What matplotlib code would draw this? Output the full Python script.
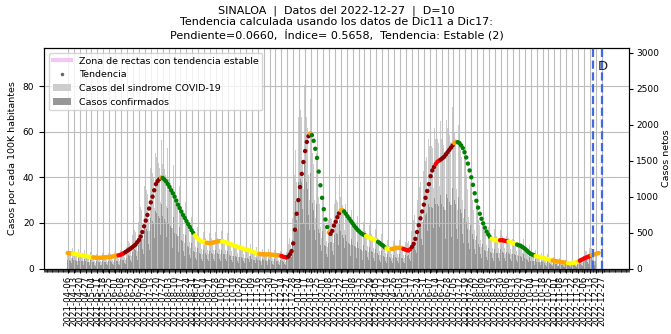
import numpy as np
import pandas as pd
import matplotlib
matplotlib.use("Agg")
import matplotlib.pyplot as plt
from matplotlib.lines import Line2D
from matplotlib.patches import Patch

# ---------------- data ----------------
state = "SINALOA"
data_date = "2022-12-27"
delay_days = 10
start_date = "2021-04-06"
trend_step_days = 2

# trend (cases per 100K), one value every 2 days from start_date
trend_values = [
    6.8, 6.7, 6.6, 6.5, 6.4, 6.3, 6.1, 6.0, 5.8, 5.7,
    5.5, 5.4, 5.2, 5.1, 5.0, 4.9, 4.8, 4.7, 4.7, 4.7,
    4.8, 4.8, 4.9, 4.9, 5.0, 5.1, 5.2, 5.3, 5.4, 5.6,
    5.8, 6.0, 6.3, 6.7, 7.2, 7.7, 8.2, 8.7, 9.3, 9.9,
    10.5, 11.5, 12.5, 14.0, 16.0, 18.5, 21.0, 23.5, 26.3, 29.0,
    31.5, 34.3, 37.0, 38.3, 39.2, 39.9, 39.7, 39.0, 38.2, 37.0,
    35.8, 34.3, 33.0, 31.5, 29.8, 28.0, 26.5, 25.0, 23.5, 22.2,
    20.8, 19.5, 18.2, 16.8, 15.6, 14.5, 13.6, 12.9, 12.3, 11.9,
    11.6, 11.5, 11.3, 11.2, 11.1, 11.2, 11.4, 11.6, 11.8, 12.0,
    12.0, 11.9, 11.7, 11.5, 11.3, 11.0, 10.7, 10.4, 10.1, 9.8,
    9.6, 9.3, 9.1, 8.8, 8.6, 8.4, 8.2, 8.0, 7.7, 7.4,
    7.1, 6.9, 6.6, 6.4, 6.3, 6.2, 6.2, 6.2, 6.2, 6.2,
    6.1, 6.0, 5.9, 5.9, 5.8, 5.7, 5.5, 5.2, 5.0, 4.8,
    5.2, 6.2, 7.6, 11.0, 17.0, 24.0, 30.0, 35.7, 41.5, 46.7,
    51.5, 55.5, 58.0, 59.2, 58.5, 56.0, 52.5, 48.5, 42.5, 36.5,
    31.0, 26.0, 21.5, 18.2, 15.8, 15.2, 16.5, 18.8, 20.5, 22.5,
    24.2, 25.5, 25.6, 25.0, 24.0, 22.9, 21.9, 20.8, 19.8, 18.7,
    17.8, 16.9, 16.2, 15.5, 15.0, 14.6, 14.2, 13.9, 13.6, 13.2,
    12.9, 12.6, 12.1, 11.7, 11.1, 10.5, 10.0, 9.3, 8.8, 8.6,
    8.6, 8.6, 8.7, 8.9, 9.0, 9.1, 9.1, 8.9, 8.6, 8.3,
    8.0, 7.9, 8.5, 9.5, 10.8, 13.0, 16.0, 19.0, 22.0, 25.0,
    28.0, 31.0, 34.0, 37.0, 40.5, 43.0, 44.5, 45.8, 46.8, 47.3,
    47.8, 48.4, 49.0, 50.0, 51.0, 52.0, 53.0, 54.0, 55.0, 55.5,
    55.4, 55.0, 54.0, 52.8, 51.0, 48.7, 46.0, 43.0, 40.0, 36.7,
    33.0, 29.7, 26.7, 24.0, 21.8, 19.8, 17.9, 16.2, 14.9, 13.8,
    13.1, 12.6, 12.4, 12.3, 12.3, 12.4, 12.4, 12.3, 12.1, 12.0,
    11.8, 11.6, 11.3, 11.0, 10.8, 10.5, 10.2, 10.0, 9.5, 9.0,
    8.4, 7.7, 7.0, 6.4, 6.1, 5.8, 5.5, 5.3, 5.1, 5.0,
    4.8, 4.5, 4.3, 4.1, 3.9, 3.7, 3.5, 3.4, 3.2, 3.1,
    3.0, 2.8, 2.7, 2.6, 2.5, 2.4, 2.4, 2.4, 2.5, 2.6,
    2.8, 3.1, 3.4, 3.8, 4.2, 4.6, 4.9, 5.2, 5.5, 5.8,
    6.1, 6.3, 6.6, 6.8,
]

# trend category runs: day offset (from start_date) where each colour starts
trend_run_start_day = [0, 6, 30, 59, 68, 109, 111, 150, 164, 182, 225, 251, 259,
                       286, 288, 307, 310, 321, 325, 351, 365, 376, 382, 396,
                       405, 434, 440, 455, 459, 500, 510, 519, 530, 552, 571,
                       589, 604, 618]
trend_run_category = ["orange", "yellow", "orange", "red", "darkred", "orange",
                      "green", "yellow", "orange", "yellow", "orange", "red",
                      "darkred", "orange", "green", "orange", "darkred", "orange",
                      "green", "yellow", "green", "yellow", "orange", "red",
                      "darkred", "red", "darkred", "orange", "green", "yellow",
                      "red", "yellow", "green", "yellow", "orange", "yellow",
                      "red", "orange"]

# daily cases (weekly rows, starting at start_date)
sindrome_cases = [
    [250, 250, 240, 225, 150, 115, 290], [240, 240, 230, 215, 145, 110, 275],
    [220, 220, 210, 200, 130, 100, 255], [200, 200, 190, 180, 120, 90, 230],
    [180, 180, 170, 160, 110, 80, 205], [185, 175, 175, 165, 105, 85, 210],
    [190, 190, 180, 170, 115, 85, 220], [200, 200, 190, 180, 120, 90, 230],
    [220, 220, 210, 200, 130, 100, 255], [260, 260, 245, 235, 155, 115, 300],
    [400, 400, 380, 360, 240, 180, 460], [560, 560, 530, 505, 335, 250, 645],
    [900, 900, 855, 810, 540, 405, 1035], [1150, 1150, 1090, 1035, 690, 520, 1320],
    [1400, 1400, 1330, 1260, 840, 630, 1610], [1550, 1550, 1470, 1395, 930, 700, 1780],
    [1450, 1450, 1380, 1305, 870, 650, 1670], [1250, 1250, 1190, 1125, 750, 560, 1440],
    [1000, 1000, 950, 900, 600, 450, 1150], [800, 800, 760, 720, 480, 360, 920],
    [620, 620, 590, 560, 370, 280, 715], [500, 500, 475, 450, 300, 225, 575],
    [440, 440, 420, 395, 265, 200, 505], [430, 430, 410, 385, 260, 195, 495],
    [445, 435, 420, 400, 260, 200, 510], [450, 450, 430, 405, 270, 200, 520],
    [425, 435, 405, 390, 255, 195, 490], [400, 400, 380, 360, 240, 180, 460],
    [360, 360, 340, 325, 215, 160, 415], [330, 330, 315, 295, 200, 150, 380],
    [300, 300, 285, 270, 180, 135, 345], [260, 260, 245, 235, 155, 115, 300],
    [240, 240, 230, 215, 145, 110, 275], [235, 235, 225, 210, 140, 105, 270],
    [225, 225, 215, 200, 135, 100, 260], [210, 210, 200, 190, 125, 95, 240],
    [200, 200, 190, 180, 120, 90, 230], [300, 340, 380, 420, 320, 280, 700],
    [1100, 1300, 1500, 1650, 1200, 950, 2100], [2200, 2250, 2200, 2100, 1450, 1100, 2550],
    [2300, 2200, 2100, 1950, 1300, 950, 2350], [1900, 1750, 1600, 1450, 950, 700, 1600],
    [1300, 1150, 1000, 900, 580, 430, 950], [750, 680, 620, 580, 380, 300, 720],
    [680, 700, 700, 690, 470, 350, 850], [900, 950, 950, 920, 620, 460, 1300],
    [1000, 950, 880, 820, 540, 400, 900], [750, 740, 700, 660, 440, 330, 820],
    [650, 640, 610, 580, 390, 290, 730], [560, 560, 530, 505, 335, 250, 645],
    [520, 520, 495, 470, 310, 235, 600], [480, 480, 455, 430, 290, 215, 550],
    [420, 420, 400, 380, 250, 190, 485], [350, 350, 335, 315, 210, 160, 400],
    [330, 330, 315, 295, 200, 150, 380], [340, 340, 325, 305, 205, 155, 390],
    [320, 320, 305, 290, 190, 145, 370], [330, 340, 360, 380, 260, 210, 520],
    [550, 620, 680, 740, 520, 420, 1000], [950, 1050, 1130, 1200, 820, 640, 1450],
    [1350, 1450, 1500, 1550, 1050, 800, 1800], [1700, 1750, 1700, 1680, 1120, 850, 1950],
    [1800, 1850, 1800, 1750, 1150, 870, 2050], [1800, 1800, 1710, 1620, 1080, 810, 2070],
    [1950, 1950, 1850, 1755, 1170, 880, 2240], [2000, 1900, 1800, 1700, 1100, 820, 2000],
    [1750, 1650, 1550, 1450, 950, 700, 1650], [1400, 1300, 1200, 1100, 720, 530, 1200],
    [1000, 950, 880, 820, 540, 400, 900], [720, 680, 640, 600, 400, 300, 680],
    [560, 540, 510, 480, 320, 240, 580], [480, 480, 455, 430, 290, 215, 550],
    [470, 470, 445, 425, 280, 210, 540], [475, 465, 450, 420, 285, 205, 530],
    [450, 450, 430, 405, 270, 200, 520], [410, 410, 390, 370, 245, 185, 470],
    [360, 360, 340, 325, 215, 160, 415], [280, 280, 265, 250, 170, 125, 320],
    [220, 220, 210, 200, 130, 100, 255], [190, 190, 180, 170, 115, 85, 220],
    [170, 170, 160, 155, 100, 75, 195], [140, 140, 135, 125, 85, 65, 160],
    [120, 120, 115, 110, 70, 55, 140], [105, 105, 100, 95, 65, 45, 120],
    [95, 95, 90, 85, 55, 45, 110], [110, 110, 105, 100, 65, 50, 125],
    [150, 150, 145, 135, 90, 70, 175], [220, 230, 240, 250, 170, 130, 290],
    [260, 270, 280, 250, 160, 110, 200],
]

confirmed_cases = [
    [125, 125, 120, 110, 75, 55, 145], [120, 120, 115, 105, 70, 55, 140],
    [110, 110, 105, 100, 65, 50, 130], [100, 100, 95, 90, 60, 45, 115],
    [90, 90, 85, 80, 55, 40, 100], [90, 88, 88, 82, 52, 42, 105],
    [95, 95, 90, 85, 58, 42, 110], [100, 100, 95, 90, 60, 45, 115],
    [110, 110, 105, 100, 65, 50, 128], [130, 130, 122, 118, 78, 58, 150],
    [200, 200, 190, 180, 120, 90, 230], [280, 280, 265, 252, 168, 125, 322],
    [450, 450, 428, 405, 270, 202, 518], [575, 575, 545, 518, 345, 260, 660],
    [700, 700, 665, 630, 420, 315, 805], [775, 775, 735, 698, 465, 350, 890],
    [725, 725, 690, 652, 435, 325, 835], [625, 625, 595, 562, 375, 280, 720],
    [500, 500, 475, 450, 300, 225, 575], [400, 400, 380, 360, 240, 180, 460],
    [310, 310, 295, 280, 185, 140, 358], [250, 250, 238, 225, 150, 112, 288],
    [220, 220, 210, 198, 132, 100, 252], [215, 215, 205, 192, 130, 98, 248],
    [222, 218, 210, 200, 130, 100, 255], [225, 225, 215, 202, 135, 100, 260],
    [212, 218, 202, 195, 128, 98, 245], [200, 200, 190, 180, 120, 90, 230],
    [180, 180, 170, 162, 108, 80, 208], [165, 165, 158, 148, 100, 75, 190],
    [150, 150, 142, 135, 90, 68, 172], [130, 130, 122, 118, 78, 58, 150],
    [120, 120, 115, 108, 72, 55, 138], [118, 118, 112, 105, 70, 52, 135],
    [112, 112, 108, 100, 68, 50, 130], [105, 105, 100, 95, 62, 48, 120],
    [100, 100, 95, 90, 60, 45, 115], [170, 190, 215, 240, 180, 160, 400],
    [620, 740, 850, 940, 680, 540, 1200], [1250, 1280, 1250, 1200, 830, 630, 1450],
    [1300, 1250, 1200, 1100, 740, 540, 1330], [1080, 1000, 910, 820, 540, 400, 900],
    [720, 640, 550, 500, 320, 240, 520], [400, 360, 330, 310, 200, 160, 380],
    [360, 370, 370, 365, 250, 185, 450], [470, 500, 500, 480, 325, 240, 680],
    [520, 495, 460, 425, 280, 210, 470], [380, 375, 355, 335, 225, 168, 415],
    [330, 325, 310, 295, 198, 148, 370], [280, 280, 265, 252, 168, 125, 322],
    [260, 260, 248, 235, 155, 118, 300], [240, 240, 228, 215, 145, 108, 275],
    [210, 210, 200, 190, 125, 95, 242], [175, 175, 168, 158, 105, 80, 200],
    [165, 165, 158, 148, 100, 75, 190], [170, 170, 162, 152, 102, 78, 195],
    [160, 160, 152, 145, 95, 72, 185], [165, 170, 180, 190, 130, 105, 260],
    [275, 310, 340, 370, 260, 210, 500], [475, 525, 565, 600, 410, 320, 725],
    [675, 725, 750, 775, 525, 400, 900], [850, 875, 850, 840, 560, 425, 975],
    [900, 925, 900, 875, 575, 435, 1025], [900, 900, 855, 810, 540, 405, 1035],
    [975, 975, 925, 878, 585, 440, 1120], [1000, 950, 900, 850, 550, 410, 1000],
    [875, 825, 775, 725, 475, 350, 825], [700, 650, 600, 550, 360, 265, 600],
    [500, 475, 440, 410, 270, 200, 450], [360, 340, 320, 300, 200, 150, 340],
    [280, 270, 255, 240, 160, 120, 290], [240, 240, 228, 215, 145, 108, 275],
    [235, 235, 222, 212, 140, 105, 270], [238, 232, 225, 210, 142, 102, 265],
    [225, 225, 215, 202, 135, 100, 260], [205, 205, 195, 185, 122, 92, 235],
    [180, 180, 170, 162, 108, 80, 208], [140, 140, 132, 125, 85, 62, 160],
    [110, 110, 105, 100, 65, 50, 128], [95, 95, 90, 85, 58, 42, 110],
    [85, 85, 80, 78, 50, 38, 98], [70, 70, 68, 62, 42, 32, 80],
    [60, 60, 58, 55, 35, 28, 70], [52, 52, 50, 48, 32, 22, 60],
    [48, 48, 45, 42, 28, 22, 55], [55, 55, 52, 50, 32, 25, 62],
    [75, 75, 72, 68, 45, 35, 88], [110, 115, 120, 125, 85, 65, 145],
    [130, 135, 140, 125, 80, 55, 100],
]

tick_first = "2021-04-06"
tick_last = "2022-12-27"
window_dates = ["2022-12-17", "2022-12-27"]
x_range = ["2021-03-09", "2023-01-28"]

title_text = ("SINALOA  |  Datos del 2022-12-27  |  D=10\n"
              "Tendencia calculada usando los datos de Dic11 a Dic17:\n"
              "Pendiente=0.0660,  Índice= 0.5658,  Tendencia: Estable (2)")

# ---------------- styles ----------------
category_colors = {"yellow": "#ffff00", "orange": "#ffa500", "red": "#ff0000",
                   "darkred": "#8b0000", "green": "#008000"}
light_bar = "#cdcdcd"
dark_bar = "#979797"

plt.rcParams["font.family"] = ["DejaVu Sans"]

fig = plt.figure(figsize=(6.71, 3.34), dpi=100)
ax = fig.add_axes([44 / 671, 1 - 268.5 / 334, (629 - 44) / 671, (268.5 - 48) / 334])
ax2 = ax.twinx()

# bars on the right axis
sind = np.concatenate([np.asarray(r, float) for r in sindrome_cases])
conf = np.concatenate([np.asarray(r, float) for r in confirmed_cases])
bar_dates = pd.date_range(start_date, periods=len(sind), freq="D")
ax2.bar(bar_dates, sind, width=1.0, color=light_bar, linewidth=0)
ax2.bar(bar_dates, conf, width=1.0, color=dark_bar, linewidth=0)
ax2.set_ylim(0, 3065)
ax2.set_yticks(np.arange(0, 3001, 500))
ax2.set_ylabel("Casos netos", fontsize=6.8, labelpad=2)
ax2.tick_params(axis="y", labelsize=6.5, pad=2, length=3)

# trend dots on the left axis (drawn above the bars)
ax.set_zorder(ax2.get_zorder() + 1)
ax.patch.set_visible(False)
trend_dates = pd.date_range(start_date, periods=len(trend_values),
                            freq=f"{trend_step_days}D")
offsets = np.arange(len(trend_values)) * trend_step_days
idx = np.searchsorted(np.asarray(trend_run_start_day), offsets, side="right") - 1
dot_colors = [category_colors[trend_run_category[i]] for i in idx]
ax.scatter(trend_dates, trend_values, c=dot_colors, s=10, linewidths=0, zorder=3)

for d in window_dates:
    ax.axvline(pd.Timestamp(d), color="#4169e1", linestyle="--", linewidth=1.6, zorder=4)
ax.text(pd.Timestamp("2022-12-22"), 88.5, "D", fontsize=9.5, ha="left", va="center",
        color="#222222", zorder=5)

ax.set_ylim(0, 96.7)
ax.set_yticks([0, 20, 40, 60, 80])
ax.set_ylabel("Casos por cada 100K habitantes", fontsize=6.8)
ax.tick_params(axis="y", labelsize=6.5)

ticks = pd.date_range(tick_first, tick_last, freq="7D")
ax.set_xticks(ticks)
ax.set_xticklabels([t.strftime("%Y-%m-%d") for t in ticks], rotation=90, fontsize=6.2)
minor = pd.date_range(x_range[0], x_range[1], freq="D")
ax.set_xticks(minor, minor=True)
ax.tick_params(axis="x", which="minor", length=1.8, width=0.5)
ax.tick_params(axis="x", which="major", length=3, pad=2)
ax.set_xlim(pd.Timestamp(x_range[0]), pd.Timestamp(x_range[1]))
ax.grid(True, which="major", color="#bdbdbd", linewidth=0.8)

handles = [
    Line2D([], [], color="#f5c6f5", linewidth=3),
    Line2D([], [], color="#666666", marker=".", linestyle="none", markersize=3),
    Patch(facecolor=light_bar),
    Patch(facecolor=dark_bar),
]
labels = ["Zona de rectas con tendencia estable", "Tendencia",
          "Casos del sindrome COVID-19", "Casos confirmados"]
ax.legend(handles, labels, loc="upper left", fontsize=6.8, framealpha=0.8)

fig.suptitle(title_text, fontsize=8, y=0.985, va="top", x=(44 + 629) / 2 / 671)

fig.savefig("out.png", dpi=100)
